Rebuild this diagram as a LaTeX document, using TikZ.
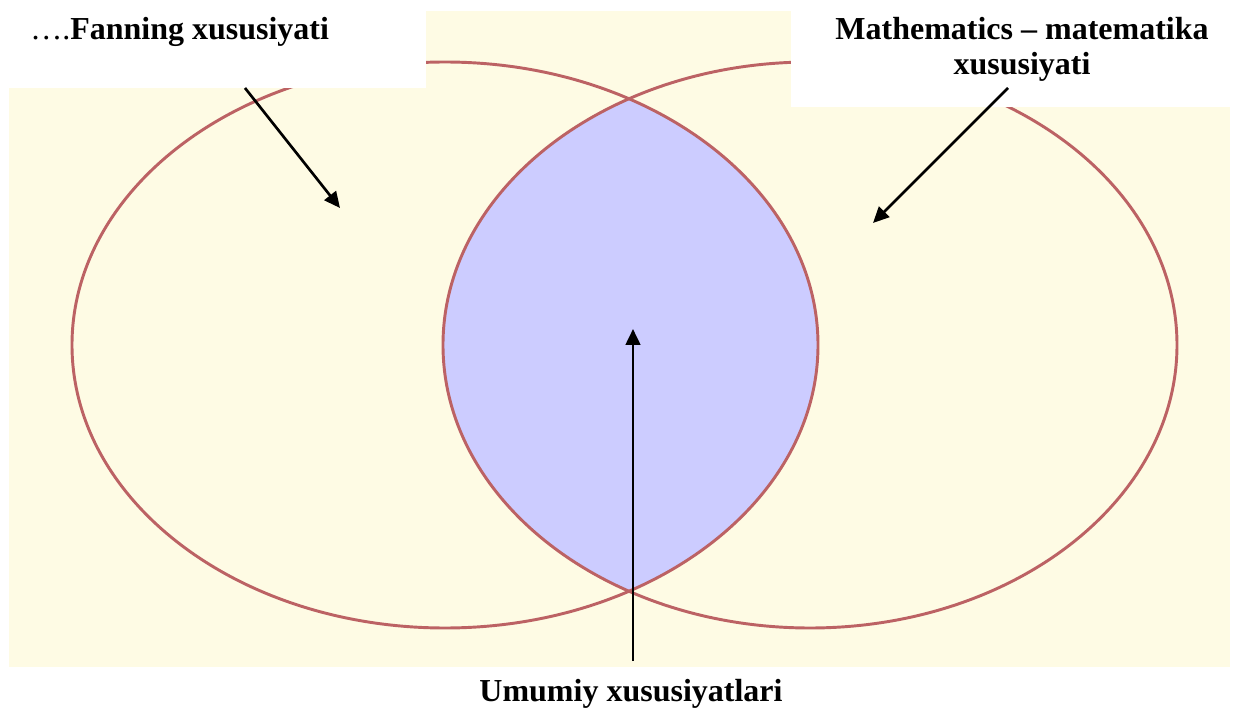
\documentclass[tikz,border=0pt]{standalone}
\usepackage{fontspec}
\setmainfont{Liberation Serif}
\usetikzlibrary{arrows.meta}
\definecolor{kremrang}{RGB}{254,251,228}
\definecolor{chiziq}{RGB}{188,98,100}
\definecolor{kesishma}{RGB}{204,204,255}
\begin{document}
\begin{tikzpicture}[x=0.75pt, y=-0.75pt, >={Triangle[length=12pt, width=11pt]},
    yozuv/.style={font=\fontsize{24}{26.5}\selectfont\bfseries, inner sep=0pt},
    doira/.style={draw=chiziq, line width=2.2pt},
    strelka/.style={->, line width=2pt}]

    \useasboundingbox (0,0) rectangle (1233,713);

    % 1. Fon
    \fill[kremrang] (9,11) rectangle (1230,667);

    % 2. Kesishma (umumiy qism)
    \begin{scope}
        \clip (445,345) ellipse [x radius=373, y radius=283];
        \fill[kesishma] (810,345) ellipse [x radius=367, y radius=283];
    \end{scope}

    % 3. Ikki ellips
    \draw[doira] (445,345) ellipse [x radius=373, y radius=283];
    \draw[doira] (810,345) ellipse [x radius=367, y radius=283];

    % Yozuvlar ostidagi oq joylar
    \fill[white] (0,0) rectangle (426,88);
    \fill[white] (791,0) rectangle (1233,107);

    % 4. Yozuvlar
    \node[yozuv, anchor=base west] (fan) at (30,40) {{\mdseries ….}Fanning xususiyati};
    \node[yozuv, anchor=base, align=center] (mat) at (1022,75) {Mathematics – matematika\\xususiyati};
    \node[yozuv, anchor=base] (umumiy) at (631,701) {Umumiy xususiyatlari};

    % 5. Strelkalar
    \coordinate (fanbosh) at (245,88);
    \coordinate (fanuch) at (340,208);
    \coordinate (matbosh) at (1008,88);
    \coordinate (matuch) at (873,223);
    \coordinate (umbosh) at (633,661);
    \coordinate (umuch) at (633,329);
    \draw[strelka] (fanbosh) -- (fanuch);
    \draw[strelka] (matbosh) -- (matuch);
    \draw[strelka] (umbosh) -- (umuch);

\end{tikzpicture}
\end{document}
